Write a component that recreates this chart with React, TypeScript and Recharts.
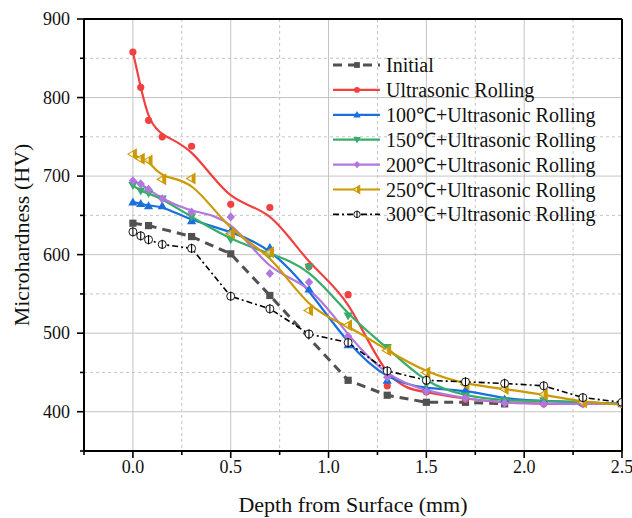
import React from 'react';
import {
  CartesianGrid,
  Legend,
  Line,
  LineChart,
  ReferenceLine,
  XAxis,
  YAxis,
} from 'recharts';

const FONT = 'Liberation Serif, Times New Roman, serif';

// depths (mm)
const depthInitial = [0, 0.08, 0.3, 0.5, 0.7, 1.1, 1.3, 1.5, 1.7, 1.9];
const depthTreated = [0, 0.04, 0.08, 0.15, 0.3, 0.5, 0.7, 0.9, 1.1, 1.3, 1.5, 1.7, 1.9, 2.1, 2.3, 2.5];

// microhardness (HV)
const hvInitial = [640, 637, 623, 601, 548, 440, 421, 412, 412, 410];
const hvUR = [858, 813, 771, 750, 738, 664, 660, 585, 549, 433, 425, 416, 412, 410, 410, 410];
const hv100 = [667, 665, 662, 662, 643, 630, 609, 556, 485, 440, 429, 428, 416, 414, 412, 410];
const hv150 = [688, 681, 678, 671, 648, 619, 601, 584, 522, 482, 435, 420, 414, 414, 412, 410];
const hv200 = [694, 690, 683, 671, 654, 648, 576, 565, 496, 444, 426, 417, 411, 410, 410, 410];
const hv250 = [728, 722, 720, 696, 697, 627, 603, 529, 510, 478, 450, 435, 429, 422, 412, 409];
const hv300 = [629, 624, 619, 613, 608, 547, 531, 499, 488, 452, 440, 438, 436, 433, 418, 412];

const xTicks = [0, 0.5, 1, 1.5, 2, 2.5];
const xMinor = [-0.25, 0.25, 0.75, 1.25, 1.75, 2.25];
const yTicks = [400, 500, 600, 700, 800, 900];
const yMinor = [350, 450, 550, 650, 750, 850];

const toPoints = (xs: number[], ys: number[]) => xs.map((x, i) => ({ x, y: ys[i] }));

type Kind = 'square' | 'circle' | 'up' | 'down' | 'diamond' | 'left' | 'phi';

const series = [
  { name: 'Initial', data: toPoints(depthInitial, hvInitial), color: '#515151', kind: 'square' as Kind, type: 'linear', width: 3, dash: '9 6' },
  { name: 'Ultrasonic Rolling', data: toPoints(depthTreated, hvUR), color: '#F14040', kind: 'circle' as Kind, type: 'basis', width: 2.2, dash: undefined },
  { name: '100℃+Ultrasonic Rolling', data: toPoints(depthTreated, hv100), color: '#1A6FDF', kind: 'up' as Kind, type: 'basis', width: 2.2, dash: undefined },
  { name: '150℃+Ultrasonic Rolling', data: toPoints(depthTreated, hv150), color: '#37AD6B', kind: 'down' as Kind, type: 'basis', width: 2.2, dash: undefined },
  { name: '200℃+Ultrasonic Rolling', data: toPoints(depthTreated, hv200), color: '#B177DE', kind: 'diamond' as Kind, type: 'basis', width: 2.2, dash: undefined },
  { name: '250℃+Ultrasonic Rolling', data: toPoints(depthTreated, hv250), color: '#CC9900', kind: 'left' as Kind, type: 'basis', width: 2.2, dash: undefined },
  { name: '300℃+Ultrasonic Rolling', data: toPoints(depthTreated, hv300), color: '#000000', kind: 'phi' as Kind, type: 'linear', width: 1.6, dash: '6 3 2 3' },
];

function Marker({ kind, cx, cy, color, s = 1 }: { kind: Kind; cx: number; cy: number; color: string; s?: number }) {
  const k = (v: number) => v * s;
  switch (kind) {
    case 'square':
      return <rect x={cx - k(3.6)} y={cy - k(3.6)} width={k(7.2)} height={k(7.2)} fill={color} />;
    case 'circle':
      return <circle cx={cx} cy={cy} r={k(3.6)} fill={color} />;
    case 'up':
      return <polygon points={`${cx},${cy - k(4.6)} ${cx - k(4.6)},${cy + k(3.4)} ${cx + k(4.6)},${cy + k(3.4)}`} fill={color} />;
    case 'down':
      return <polygon points={`${cx},${cy + k(4.6)} ${cx - k(4.6)},${cy - k(3.4)} ${cx + k(4.6)},${cy - k(3.4)}`} fill={color} />;
    case 'diamond':
      return <polygon points={`${cx},${cy - k(4.6)} ${cx + k(4.2)},${cy} ${cx},${cy + k(4.6)} ${cx - k(4.2)},${cy}`} fill={color} />;
    case 'left':
      return (
        <g>
          <polygon
            points={`${cx - k(5)},${cy} ${cx + k(3.4)},${cy - k(5)} ${cx + k(3.4)},${cy + k(5)}`}
            fill="#fff"
            fillOpacity={0.6}
            stroke={color}
            strokeWidth={1.1}
          />
          <polygon
            points={`${cx},${cy - k(3)} ${cx + k(3.4)},${cy - k(5)} ${cx + k(3.4)},${cy + k(5)} ${cx},${cy + k(3)}`}
            fill={color}
          />
        </g>
      );
    case 'phi':
      return (
        <g>
          <circle cx={cx} cy={cy} r={k(4)} fill="#fff" stroke="#000" strokeWidth={0.9} />
          <line x1={cx} y1={cy - k(4.6)} x2={cx} y2={cy + k(4.6)} stroke="#000" strokeWidth={1.1} />
        </g>
      );
  }
  return null;
}

const makeDot = (kind: Kind, color: string) => (props: any) => {
  const { cx, cy, index } = props;
  if (cx == null || cy == null) return <g key={index} />;
  return (
    <g key={`d-${index}`}>
      <Marker kind={kind} cx={cx} cy={cy} color={color} />
    </g>
  );
};

const textStyle = { fontFamily: FONT, fill: '#111' };

const XTick = (props: any) => {
  const { x, y, payload } = props;
  const major = xTicks.includes(payload.value);
  return (
    <g>
      <line x1={x} y1={y} x2={x} y2={y + (major ? 7 : 4)} stroke="#000" strokeWidth={1.6} />
      {major && (
        <text x={x} y={y + 22} textAnchor="middle" fontSize={18} style={textStyle}>
          {payload.value.toFixed(1)}
        </text>
      )}
    </g>
  );
};

const YTick = (props: any) => {
  const { x, y, payload } = props;
  const major = yTicks.includes(payload.value);
  return (
    <g>
      <line x1={x - (major ? 7 : 4)} y1={y} x2={x} y2={y} stroke="#000" strokeWidth={1.6} />
      {major && (
        <text x={x - 14} y={y + 6} textAnchor="end" fontSize={18} style={textStyle}>
          {payload.value}
        </text>
      )}
    </g>
  );
};

const LegendBox = () => (
  <svg width={300} height={180} style={{ display: 'block' }}>
    {series.map((s, i) => {
      const cy = 12 + i * 24.9;
      return (
        <g key={s.name}>
          <line x1={3} y1={cy} x2={50} y2={cy} stroke={s.color} strokeWidth={s.width} strokeDasharray={s.dash} />
          <Marker kind={s.kind} cx={27} cy={cy} color={s.color} s={0.8} />
          <text x={56} y={cy + 7} fontSize={20} style={textStyle}>
            {s.name}
          </text>
        </g>
      );
    })}
  </svg>
);

export default function App() {
  return (
    <div style={{ position: 'fixed', left: 0, top: 0, background: '#fff', fontFamily: FONT }}>
      <LineChart width={632} height={518} margin={{ top: 19, right: 10, left: 0, bottom: 0 }}>
        <CartesianGrid
          horizontalValues={[400, 500, 600, 700, 800]}
          verticalValues={[0, 0.5, 1, 1.5, 2]}
          stroke="#c4c4c4"
          strokeWidth={1}
        />
        <CartesianGrid
          horizontalValues={[450, 550, 650, 750, 850]}
          verticalValues={[0.25, 0.75, 1.25, 1.75, 2.25]}
          stroke="#c4c4c4"
          strokeWidth={1}
          strokeDasharray="3 3"
        />
        <XAxis
          type="number"
          dataKey="x"
          domain={[-0.25, 2.5]}
          ticks={[...xMinor, ...xTicks].sort((a, b) => a - b)}
          interval={0}
          allowDataOverflow
          height={67}
          tickLine={false}
          tickSize={0}
          tickMargin={0}
          tick={<XTick />}
          axisLine={{ stroke: '#000', strokeWidth: 2 }}
          label={{
            value: 'Depth from Surface (mm)',
            position: 'insideBottom',
            offset: 6,
            style: { fontSize: 22, fontFamily: FONT, fill: '#111' },
          }}
        />
        <YAxis
          type="number"
          domain={[350, 900]}
          ticks={[...yMinor, ...yTicks].sort((a, b) => a - b)}
          interval={0}
          allowDataOverflow
          width={84}
          tickLine={false}
          tickSize={0}
          tickMargin={0}
          tick={<YTick />}
          axisLine={{ stroke: '#000', strokeWidth: 2 }}
          label={{
            value: 'Microhardness (HV)',
            angle: -90,
            position: 'insideLeft',
            offset: 21,
            style: { fontSize: 22, fontFamily: FONT, fill: '#111', textAnchor: 'middle' },
          }}
        />
        <ReferenceLine y={900} stroke="#000" strokeWidth={2} />
        <ReferenceLine x={2.5} stroke="#000" strokeWidth={2} />
        {series.map((s) => (
          <Line
            key={s.name}
            data={s.data}
            dataKey="y"
            name={s.name}
            type={s.type as any}
            stroke={s.color}
            strokeWidth={s.width}
            strokeDasharray={s.dash}
            dot={makeDot(s.kind, s.color)}
            activeDot={false}
            isAnimationActive={false}
          />
        ))}
        <Legend
          layout="horizontal"
          align="center"
          verticalAlign="middle"
          content={() => <LegendBox />}
          wrapperStyle={{ position: 'absolute', left: 330, top: 53, width: 300, height: 180 }}
        />
      </LineChart>
    </div>
  );
}
